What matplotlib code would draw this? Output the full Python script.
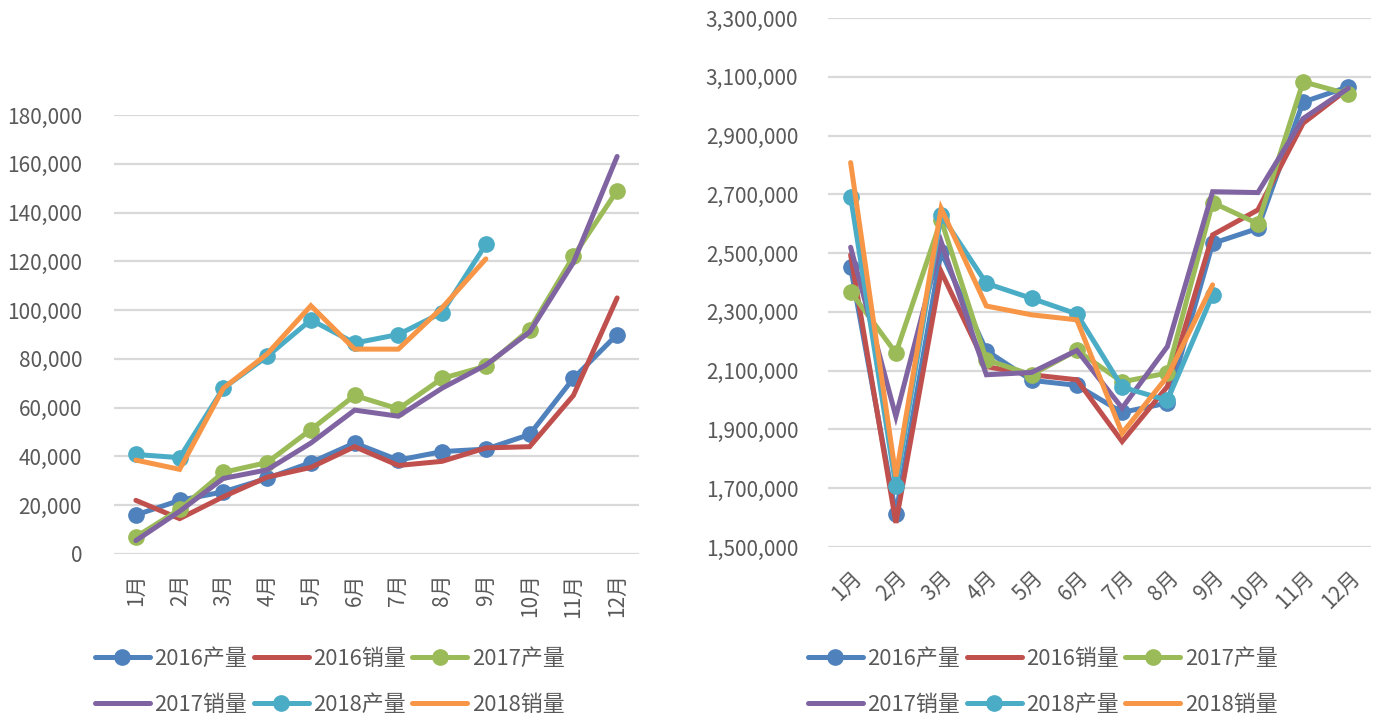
import matplotlib
matplotlib.use("Agg")
import matplotlib.pyplot as plt
from matplotlib.ticker import FuncFormatter

plt.rcParams['font.family'] = ['Noto Sans CJK SC', 'DejaVu Sans']

months = ["1月", "2月", "3月", "4月", "5月", "6月", "7月", "8月", "9月", "10月", "11月", "12月"]
series_names = ["2016产量", "2016销量", "2017产量", "2017销量", "2018产量", "2018销量"]

# Left chart values
left_2016_prod = [16000, 22000, 25500, 31000, 37500, 45500, 38500, 42000, 43000, 49000, 72000, 90000]
left_2016_sales = [22000, 14500, 23500, 31500, 35500, 44000, 36300, 38000, 43500, 44000, 65000, 105000]
left_2017_prod = [7000, 18300, 33500, 37500, 51000, 65000, 59500, 72000, 77000, 92000, 122000, 149000]
left_2017_sales = [5500, 17500, 31000, 34500, 45500, 59000, 56500, 68000, 77500, 91000, 119500, 163000]
left_2018_prod = [40800, 39500, 68000, 81000, 96000, 86500, 90000, 99000, 127000]
left_2018_sales = [38500, 34700, 68000, 82000, 101800, 84000, 84000, 101000, 121000]

# Right chart values
right_2016_prod = [2452000, 1612000, 2505000, 2168000, 2067000, 2050000, 1958000, 1990000, 2533000, 2584000, 3014000, 3066000]
right_2016_sales = [2494000, 1582000, 2437000, 2114000, 2086000, 2069000, 1859000, 2046000, 2562000, 2647000, 2942000, 3060000]
right_2017_prod = [2369000, 2160000, 2613000, 2137000, 2086000, 2169000, 2062000, 2092000, 2672000, 2600000, 3083000, 3041000]
right_2017_sales = [2520000, 1944000, 2539000, 2086000, 2094000, 2169000, 1973000, 2182000, 2709000, 2706000, 2958000, 3061000]
right_2018_prod = [2692000, 1706000, 2630000, 2397000, 2346000, 2293000, 2044000, 1999000, 2358000]
right_2018_sales = [2808000, 1740000, 2652000, 2320000, 2290000, 2273000, 1887000, 2080000, 2392000]

colors = ["#4F81BD", "#C0504D", "#9BBB59", "#8064A2", "#4BACC6", "#F79646"]
has_marker = [True, False, True, False, True, False]
text_color = "#595959"
grid_color = "#D9D9D9"
FS = 15

W, H = 1379, 717
fig = plt.figure(figsize=(W / 100, H / 100), dpi=100)

def make_axes(x0, x1, ytop, ybot):
    return fig.add_axes([x0 / W, 1 - ybot / H, (x1 - x0) / W, (ybot - ytop) / H])

axL = make_axes(114, 639, 115, 554)
axR = make_axes(828, 1371, 18, 547)

left_data = [left_2016_prod, left_2016_sales, left_2017_prod, left_2017_sales, left_2018_prod, left_2018_sales]
right_data = [right_2016_prod, right_2016_sales, right_2017_prod, right_2017_sales, right_2018_prod, right_2018_sales]

fmt = FuncFormatter(lambda v, p: f"{int(round(v)):,}")

for ax, data in [(axL, left_data), (axR, right_data)]:
    for name, vals, c, m in zip(series_names, data, colors, has_marker):
        x = list(range(len(vals)))
        ax.plot(x, vals, color=c, lw=3.6, marker='o' if m else None,
                markersize=11, solid_capstyle='round', solid_joinstyle='miter',
                label=name, clip_on=False, zorder=3)
    ax.set_xlim(-0.5, 11.5)
    ax.set_xticks(range(12))
    for s in ax.spines.values():
        s.set_visible(False)
    ax.yaxis.grid(True, color=grid_color, lw=1.6)
    ax.set_axisbelow(True)
    ax.tick_params(length=0, colors=text_color, labelsize=FS)
    ax.yaxis.set_major_formatter(fmt)

axL.set_ylim(0, 180000)
axL.set_yticks(range(0, 180001, 20000))
axL.tick_params(axis='y', pad=23)
axL.set_xticklabels(months, rotation=90, va='top', ha='center')
axL.tick_params(axis='x', pad=14)

axR.set_ylim(1500000, 3300000)
axR.set_yticks(range(1500000, 3300001, 200000))
axR.tick_params(axis='y', pad=21.5)
axR.set_xticklabels(months, rotation=45, ha='right', va='top', rotation_mode='anchor')
axR.tick_params(axis='x', pad=14)

order = [0, 3, 1, 4, 2, 5]
for ax, x0 in [(axL, 95), (axR, 808)]:
    hs, ls = ax.get_legend_handles_labels()
    fig.legend([hs[i] for i in order], [ls[i] for i in order], ncol=3, loc='upper left',
               bbox_to_anchor=(x0 / W, 1 - 648 / H),
               frameon=False, fontsize=15.8, labelcolor=text_color,
               handlelength=2.5, handletextpad=0.2, columnspacing=0.3,
               labelspacing=1.08, borderaxespad=0, borderpad=0)

fig.savefig("out.png", dpi=100, facecolor='white')
